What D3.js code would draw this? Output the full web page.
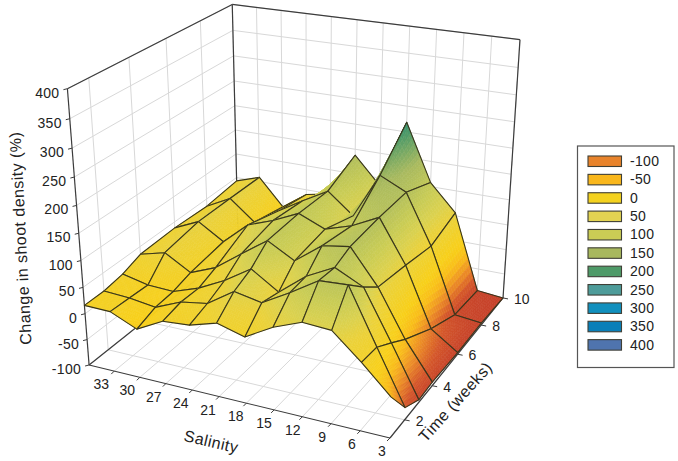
<!doctype html>
<html>
<head>
<meta charset="utf-8">
<script src="https://d3js.org/d3.v7.min.js"></script>
<style>
  html, body { margin: 0; padding: 0; background: #fff; }
  text { font-family: "Liberation Sans", Arial, sans-serif; fill: #222; }
</style>
</head>
<body>
<svg id="chart" width="678" height="461"></svg>
<script>
// far to near, same order the surface gets painted in
var salinity = [36, 33, 30, 27, 24, 21, 18, 15, 12, 9, 6, 3];
var weeks = [10, 8, 6, 4, 3, 2, 1];

// change in shoot density, one row per week, one value per salinity
var week10 = [43, 59, 5, 40, 50, 138, 85, 219, 108, 56, -95, -100];
var week8 = [35, 60, 20, 52, 82, 110, 70, 158, 134, 38, -90, -96];
var week6 = [38, 60, 29, 72, 90, 113, 92, 108, 133, 52, -61, -97];
var week4 = [35, 48, 19, 39, 75, 110, 82, 120, 128, 64, -23, -93];
var week3 = [22, 11, 9, 26, 51, 83, 50, 90, 116, 91, 0, -95];
var week2 = [16, 13, 6, 27, 35, 68, 58, 87, 119, 122, 22, -77];
var week1 = [16, 15, -7, 19, 23, 38, 24, 53, 73, 70, 25, -25];
var rows = [week10, week8, week6, week4, week3, week2, week1];

var salinityTicks = [33, 30, 27, 24, 21, 18, 15, 12, 9, 6, 3];
var weekTicks = [2, 4, 6, 8, 10];
var changeTicks = [400, 350, 300, 250, 200, 150, 100, 50, 0, -50, -100];

var legendLabels = ["-100", "-50", "0", "50", "100", "150", "200", "250", "300", "350", "400"];
var legendColors = ["#E8832B", "#F9B71C", "#F4D21F", "#E2D352", "#CACC55", "#A8B85E", "#4E9A68", "#4E9C9A", "#1190BE", "#0A7FB8", "#4F74AE"];

var surfaceStops = [-100, -75, -50, -25, 0, 50, 75, 100, 150, 200, 250];
var surfaceColors = ["#C5402A", "#D4572A", "#EC8C26", "#F9BC1A", "#F8D01A", "#EBD13A", "#DAD14F", "#C9CC55", "#A9BA5F", "#4E9A68", "#1E8A84"];

var svg = d3.select("#chart");

var sx = d3.scaleLinear().domain([3, 36]).range([0, 1]);
var ty = d3.scaleLinear().domain([1, 10]).range([0, 1]);
var cz = d3.scaleLinear().domain([-100, 400]).range([0, 1]);
var color = d3.scaleLinear().domain(surfaceStops).range(surfaceColors).clamp(true);

// perspective box: front floor corner plus three vanishing points
var origin = [390, 438];
var vpS = [-3052, -397], vpT = [1096, -437], vpZ = [312, 3207];
var wS = 0.0958, wT = 0.1906, wZ = -0.0971;

function project(s, t, z) {
    var a = sx(s) * wS, b = ty(t) * wT, c = cz(z) * wZ;
    var w = 1 + a + b + c;
    return [(origin[0] + a * vpS[0] + b * vpT[0] + c * vpZ[0]) / w,
            (origin[1] + a * vpS[1] + b * vpT[1] + c * vpZ[1]) / w];
}

var line = d3.line();
var ring = d3.line().curve(d3.curveLinearClosed);

function seg(p, q, col, width) {
    svg.append("path")
        .attr("d", line([p, q]))
        .attr("fill", "none")
        .attr("stroke", col)
        .attr("stroke-width", width);
}

var grid = "#d8d8d8", frame = "#3c3c3c";
var sMin = 3, sMax = 36, tMin = 1, tMax = 10, zMin = -100, zMax = 400;

// grid on the two walls and the floor
changeTicks.forEach(function (z) {
    seg(project(sMax, tMin, z), project(sMax, tMax, z), grid, 1);
    seg(project(sMax, tMax, z), project(sMin, tMax, z), grid, 1);
});
salinityTicks.forEach(function (s) {
    seg(project(s, tMax, zMin), project(s, tMax, zMax), grid, 1);
    seg(project(s, tMin, zMin), project(s, tMax, zMin), grid, 1);
});
weekTicks.forEach(function (t) {
    seg(project(sMax, t, zMin), project(sMax, t, zMax), grid, 1);
    seg(project(sMax, t, zMin), project(sMin, t, zMin), grid, 1);
});

// box frame
seg(project(sMax, tMin, zMin), project(sMax, tMin, zMax), frame, 1.2);
seg(project(sMax, tMin, zMax), project(sMax, tMax, zMax), frame, 1.2);
seg(project(sMax, tMax, zMax), project(sMin, tMax, zMax), frame, 1.2);
seg(project(sMax, tMax, zMax), project(sMax, tMax, zMin), frame, 1.2);
seg(project(sMin, tMax, zMax), project(sMin, tMax, zMin), frame, 1.2);
seg(project(sMax, tMin, zMin), project(sMin, tMin, zMin), frame, 1.2);
seg(project(sMin, tMin, zMin), project(sMin, tMax, zMin), frame, 1.2);
seg(project(sMax, tMin, zMin), project(sMax, tMax, zMin), frame, 1.2);

// surface, back to front, each cell split up so the colour runs smoothly
var steps = 12;
var surface = svg.append("g");
for (var i = 0; i < salinity.length - 1; i++) {
    for (var j = 0; j < weeks.length - 1; j++) {
        drawCell(i, j);
    }
}

function drawCell(i, j) {
    var s0 = salinity[i], s1 = salinity[i + 1], t0 = weeks[j], t1 = weeks[j + 1];
    var z00 = rows[j][i], z10 = rows[j][i + 1], z01 = rows[j + 1][i], z11 = rows[j + 1][i + 1];

    function at(u, v) {
        var z = (1 - u) * (1 - v) * z00 + u * (1 - v) * z10 + (1 - u) * v * z01 + u * v * z11;
        return { p: project(s0 + (s1 - s0) * u, t0 + (t1 - t0) * v, z), z: z };
    }

    for (var a = 0; a < steps; a++) {
        for (var b = 0; b < steps; b++) {
            var u = a / steps, v = b / steps, d = 1 / steps;
            var c = color(at(u + d / 2, v + d / 2).z);
            surface.append("path")
                .attr("d", ring([at(u, v).p, at(u + d, v).p, at(u + d, v + d).p, at(u, v + d).p]))
                .attr("fill", c)
                .attr("stroke", c)
                .attr("stroke-width", 0.6);
        }
    }
    surface.append("path")
        .attr("d", ring([at(0, 0).p, at(1, 0).p, at(1, 1).p, at(0, 1).p]))
        .attr("fill", "none")
        .attr("stroke", "#37351c")
        .attr("stroke-width", 1.1)
        .attr("stroke-linejoin", "round");
}

// axis ticks and labels
var tickFont = "14px";
changeTicks.forEach(function (z) {
    var p = project(sMax, tMin, z);
    seg(p, [p[0] - 4, p[1] + 1], frame, 1);
    svg.append("text").attr("x", p[0] - 8).attr("y", p[1] + 9)
        .attr("text-anchor", "end").style("font-size", tickFont).style("letter-spacing", "0.3px").text(z);
});
salinityTicks.forEach(function (s) {
    var p = project(s, tMin, zMin);
    seg(p, [p[0] - 3, p[1] + 3], frame, 1);
    svg.append("text").attr("x", p[0] - 8 - 5.5 * sx(s)).attr("y", p[1] + 18)
        .attr("text-anchor", "middle").style("font-size", tickFont).text(s);
});
weekTicks.forEach(function (t) {
    var p = project(sMin, t, zMin);
    seg(p, [p[0] + 5, p[1] + 1], frame, 1);
    svg.append("text").attr("x", p[0] + 11).attr("y", p[1] + 6)
        .style("font-size", tickFont).text(t);
});

// axis titles
svg.append("text").attr("transform", "translate(26,238) rotate(-93)")
    .attr("text-anchor", "middle").style("font-size", "16px").style("letter-spacing", "0.45px")
    .text("Change in shoot density (%)");
svg.append("text").attr("transform", "translate(210,447) rotate(13)")
    .attr("text-anchor", "middle").style("font-size", "16px").style("letter-spacing", "0.45px")
    .text("Salinity");
svg.append("text").attr("transform", "translate(459.5,405.5) rotate(-48)")
    .attr("text-anchor", "middle").style("font-size", "16px").style("letter-spacing", "0.45px")
    .text("Time (weeks)");

// legend
svg.append("rect").attr("x", 577.5).attr("y", 146).attr("width", 96.5).attr("height", 221.5)
    .attr("fill", "#fff").attr("stroke", "#555").attr("stroke-width", 1.2);
var ly = d3.scaleBand().domain(legendLabels).range([156, 358]);
legendLabels.forEach(function (lab, k) {
    svg.append("rect").attr("x", 588).attr("y", ly(lab)).attr("width", 33.5).attr("height", 10.5)
        .attr("fill", legendColors[k]).attr("stroke", "#3f3f36").attr("stroke-width", 1.1);
    svg.append("text").attr("x", 630).attr("y", ly(lab) + 10)
        .style("font-size", tickFont).style("letter-spacing", "0.3px").text(lab);
});
</script>
</body>
</html>
